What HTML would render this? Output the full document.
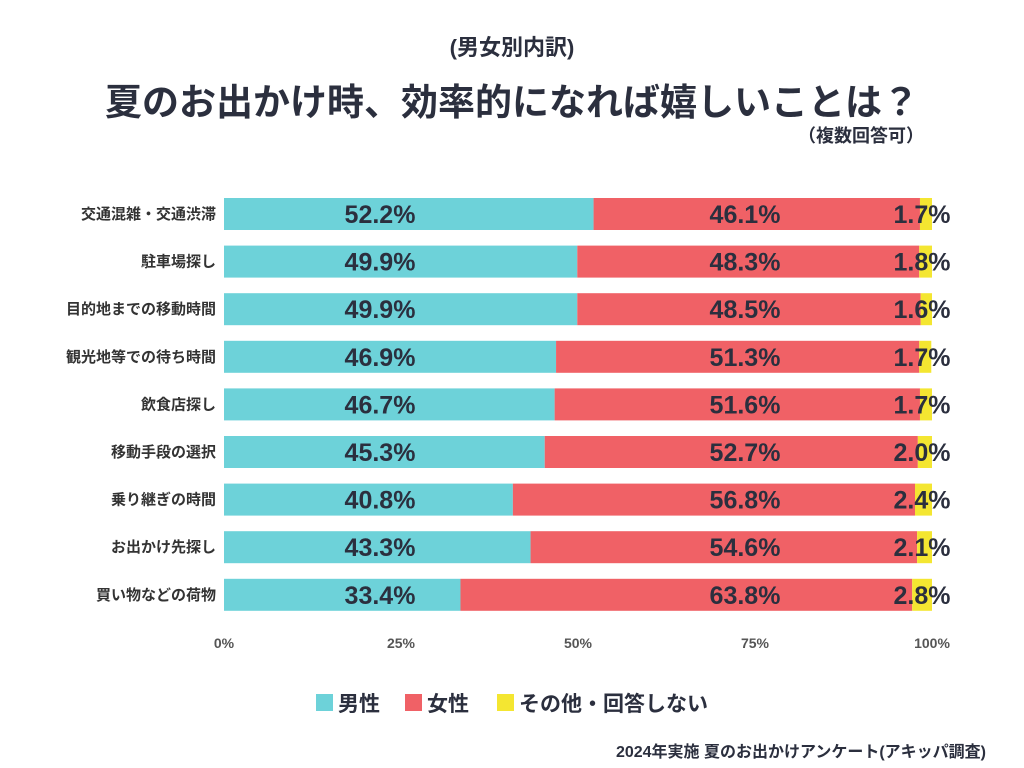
<!DOCTYPE html>
<html><head><meta charset="utf-8"><style>
body{margin:0;background:#fff;font-family:"Liberation Sans","Noto Sans CJK JP",sans-serif;color:#2b2f3e}
#wrap{position:relative;width:1024px;height:768px;overflow:hidden}
.t{position:absolute;white-space:nowrap;font-weight:bold}
</style></head><body>
<div id="wrap">
<div class="t" style="left:0;width:1024px;text-align:center;top:30px;font-size:22px">(男女別内訳)</div>
<div class="t" style="left:0;width:1024px;text-align:center;top:72px;font-size:37px">夏のお出かけ時、効率的になれば嬉しいことは？</div>
<div class="t" style="right:100px;top:122px;font-size:18px">（複数回答可）</div>
<svg id="svg" width="1024" height="768" style="position:absolute;left:0;top:0"></svg>
<div class="t" style="right:38px;top:738px;font-size:16px">2024年実施 夏のお出かけアンケート(アキッパ調査)</div>
</div>
<script>
const categories=["交通混雑・交通渋滞","駐車場探し","目的地までの移動時間","観光地等での待ち時間","飲食店探し","移動手段の選択","乗り継ぎの時間","お出かけ先探し","買い物などの荷物"];
const male=[52.2,49.9,49.9,46.9,46.7,45.3,40.8,43.3,33.4];
const female=[46.1,48.3,48.5,51.3,51.6,52.7,56.8,54.6,63.8];
const other=[1.7,1.8,1.6,1.7,1.7,2.0,2.4,2.1,2.8];
const ticks=[0,25,50,75,100];
const seriesNames=["男性","女性","その他・回答しない"];
const colors=["#6dd2d9","#f06166","#f4e631"];
const NS="http://www.w3.org/2000/svg";
const svg=document.getElementById('svg');
const x=v=>224+v/100*708;
const y=i=>198+i*47.6;
const BH=32;
function mk(tag,attrs,txt){const e=document.createElementNS(NS,tag);for(const k in attrs)e.setAttribute(k,attrs[k]);if(txt!==undefined)e.textContent=txt;svg.appendChild(e);return e;}
categories.forEach((c,i)=>{
 const l=mk('text',{x:216,y:y(i)+BH/2+5,'text-anchor':'end','font-size':15,'font-weight':'bold',fill:'#333'},c);
 
 
 const vals=[male[i],female[i],other[i]];let acc=0;
 vals.forEach((v,s)=>{
  const r=mk('rect',{x:x(acc),y:y(i),width:x(acc+v)-x(acc),height:BH,fill:colors[s]});
  
  
  acc+=v;
 });
 const lx=[380,745,922];
 vals.forEach((v,s)=>{
  const t=mk('text',{x:lx[s],y:y(i)+BH/2+9,'text-anchor':'middle','font-size':25,'font-weight':'bold',fill:'#2b2f3e'},v.toFixed(1)+'%');
  
  
 });
});
ticks.forEach(t=>{
 const e=mk('text',{x:x(t),y:648,'text-anchor':'middle','font-size':14,'font-weight':'bold',fill:'#555'},t+'%');
 
 
});
const lgX=[316,405,497];
seriesNames.forEach((n,s)=>{
 const r=mk('rect',{x:lgX[s],y:694,width:17,height:17,fill:colors[s]});
 
 
 const t=mk('text',{x:lgX[s]+22,y:711,'font-size':21,'font-weight':'bold',fill:'#2b2f3e'},n);
 
 
});
</script>
</body></html>
